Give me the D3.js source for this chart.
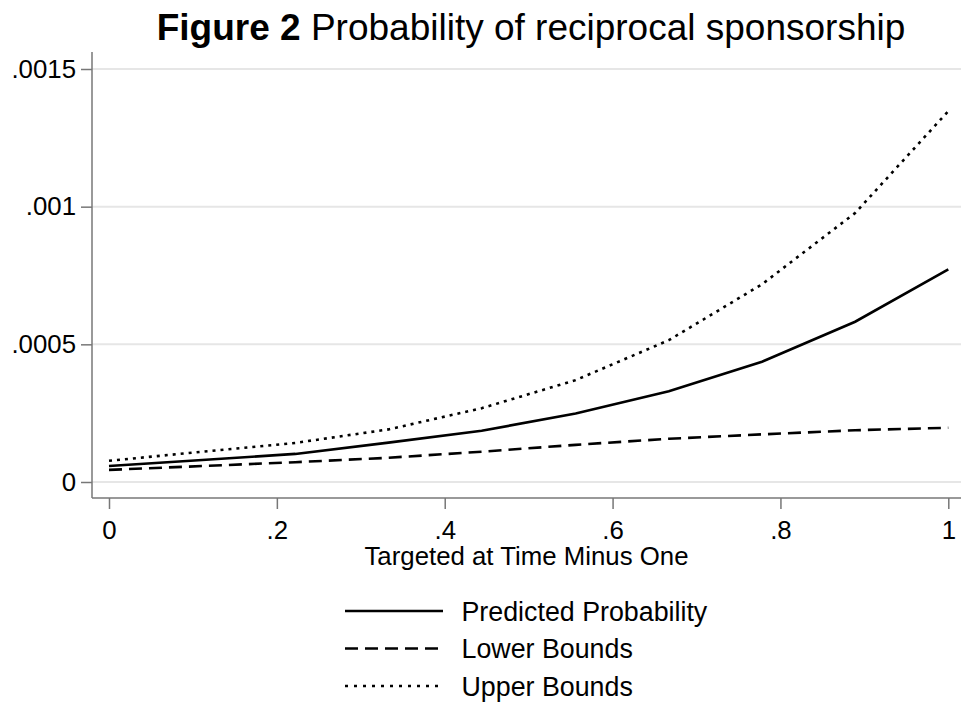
<!DOCTYPE html>
<html>
<head>
<meta charset="utf-8">
<script src="https://cdn.jsdelivr.net/npm/d3@7"></script>
<style>
  html, body { margin: 0; padding: 0; background: #fff; }
  svg { display: block; font-family: "Liberation Sans", Arial, sans-serif; }
  .axis path.domain { stroke: #777; stroke-width: 1.5; }
  .axis .tick line { stroke: #777; stroke-width: 1.5; }
  .axis .tick text { fill: #000; font-size: 25.8px; }
  .grid line { stroke: #e6e6e6; stroke-width: 2; }
</style>
</head>
<body>
<div id="chartWrap"></div>
<script>
'use strict'
// x positions of the predictions (targeted at time minus one)
const xValues = [0, 0.111, 0.222, 0.333, 0.444, 0.556, 0.667, 0.778, 0.889, 1];

const predicted = [0.000058, 0.000080, 0.000102, 0.000143, 0.000186, 0.000249, 0.000330, 0.000437, 0.000582, 0.000772];
const lowerBounds = [0.000044, 0.000058, 0.000072, 0.000088, 0.000110, 0.000135, 0.000157, 0.000173, 0.000188, 0.000197];
const upperBounds = [0.000077, 0.000110, 0.000142, 0.000191, 0.000268, 0.000370, 0.000515, 0.000718, 0.000977, 0.001347];

const xTicks = [0, 0.2, 0.4, 0.6, 0.8, 1];
const xTickLabels = ['0', '.2', '.4', '.6', '.8', '1'];
const yTicks = [0, 0.0005, 0.001, 0.0015];
const yTickLabels = ['0', '.0005', '.001', '.0015'];

const seriesNames = ['Predicted Probability', 'Lower Bounds', 'Upper Bounds'];

window.addEventListener('DOMContentLoaded', function() {
    const svgWidth = 961,
        svgHeight = 702;

    // plot region (axes lines sit on its left and bottom edges)
    const plot = { left: 92, right: 961, top: 52, bottom: 498 };

    const svg = d3.select('#chartWrap')
        .append('svg')
        .attr('width', svgWidth)
        .attr('height', svgHeight);

    const xScale = d3.scaleLinear()
        .domain([0, 1])
        .range([109, 948.3]);

    const yScale = d3.scaleLinear()
        .domain([0, 0.0015])
        .range([482, 69]);

    // Title
    const title = svg.append('text')
        .attr('x', 531)
        .attr('y', 40)
        .attr('text-anchor', 'middle')
        .attr('font-size', '37px')
        .attr('fill', '#000');
    title.append('tspan').attr('font-weight', 'bold').text('Figure 2');
    title.append('tspan').text(' Probability of reciprocal sponsorship');

    // Gridlines
    svg.append('g')
        .attr('class', 'grid')
        .selectAll('line')
        .data(yTicks)
        .join('line')
            .attr('x1', plot.left)
            .attr('x2', plot.right)
            .attr('y1', d => yScale(d))
            .attr('y2', d => yScale(d));

    // Y axis
    const yAxis = d3.axisLeft(yScale)
        .tickValues(yTicks)
        .tickFormat((d, i) => yTickLabels[i])
        .tickSize(11)
        .tickPadding(5)
        .tickSizeOuter(0);
    const yG = svg.append('g')
        .attr('class', 'axis axis-y')
        .attr('transform', `translate(${plot.left},0)`)
        .call(yAxis);
    yG.select('.domain').attr('d', `M0,${plot.top}V${plot.bottom}`);

    // X axis
    const xAxis = d3.axisBottom(xScale)
        .tickValues(xTicks)
        .tickFormat((d, i) => xTickLabels[i])
        .tickSize(11)
        .tickPadding(5)
        .tickSizeOuter(0);
    const xG = svg.append('g')
        .attr('class', 'axis axis-x')
        .attr('transform', `translate(0,${plot.bottom})`)
        .call(xAxis);
    xG.select('.domain').attr('d', `M${plot.left},0H${plot.right}`);
    xG.selectAll('.tick text').attr('dy', '0.95em');

    svg.append('text')
        .attr('x', (plot.left + plot.right) / 2)
        .attr('y', 565)
        .attr('text-anchor', 'middle')
        .attr('font-size', '25.8px')
        .text('Targeted at Time Minus One');

    // Lines
    const dashes = [null, '13,7', '3,5'];
    const series = [predicted, lowerBounds, upperBounds];
    const line = d3.line()
        .x((d, i) => xScale(xValues[i]))
        .y(d => yScale(d));

    svg.append('g')
        .attr('class', 'lines')
        .selectAll('path')
        .data(series)
        .join('path')
            .attr('d', line)
            .attr('fill', 'none')
            .attr('stroke', '#000')
            .attr('stroke-width', 2.6)
            .attr('stroke-dasharray', (d, i) => dashes[i]);

    // Legend
    const legend = svg.append('g').attr('class', 'legend');
    const rows = legend.selectAll('g')
        .data(seriesNames)
        .join('g')
            .attr('transform', (d, i) => `translate(0, ${611 + i * 37.5})`);
    rows.append('line')
        .attr('x1', 345)
        .attr('x2', 443)
        .attr('y1', 0)
        .attr('y2', 0)
        .attr('stroke', '#000')
        .attr('stroke-width', 2.5)
        .attr('stroke-dasharray', (d, i) => i === 1 ? '13,7' : (i === 2 ? '3,6' : null));
    rows.append('text')
        .attr('x', 461.5)
        .attr('y', 9.6)
        .attr('font-size', '26.8px')
        .text(d => d);
});
</script>
</body>
</html>
